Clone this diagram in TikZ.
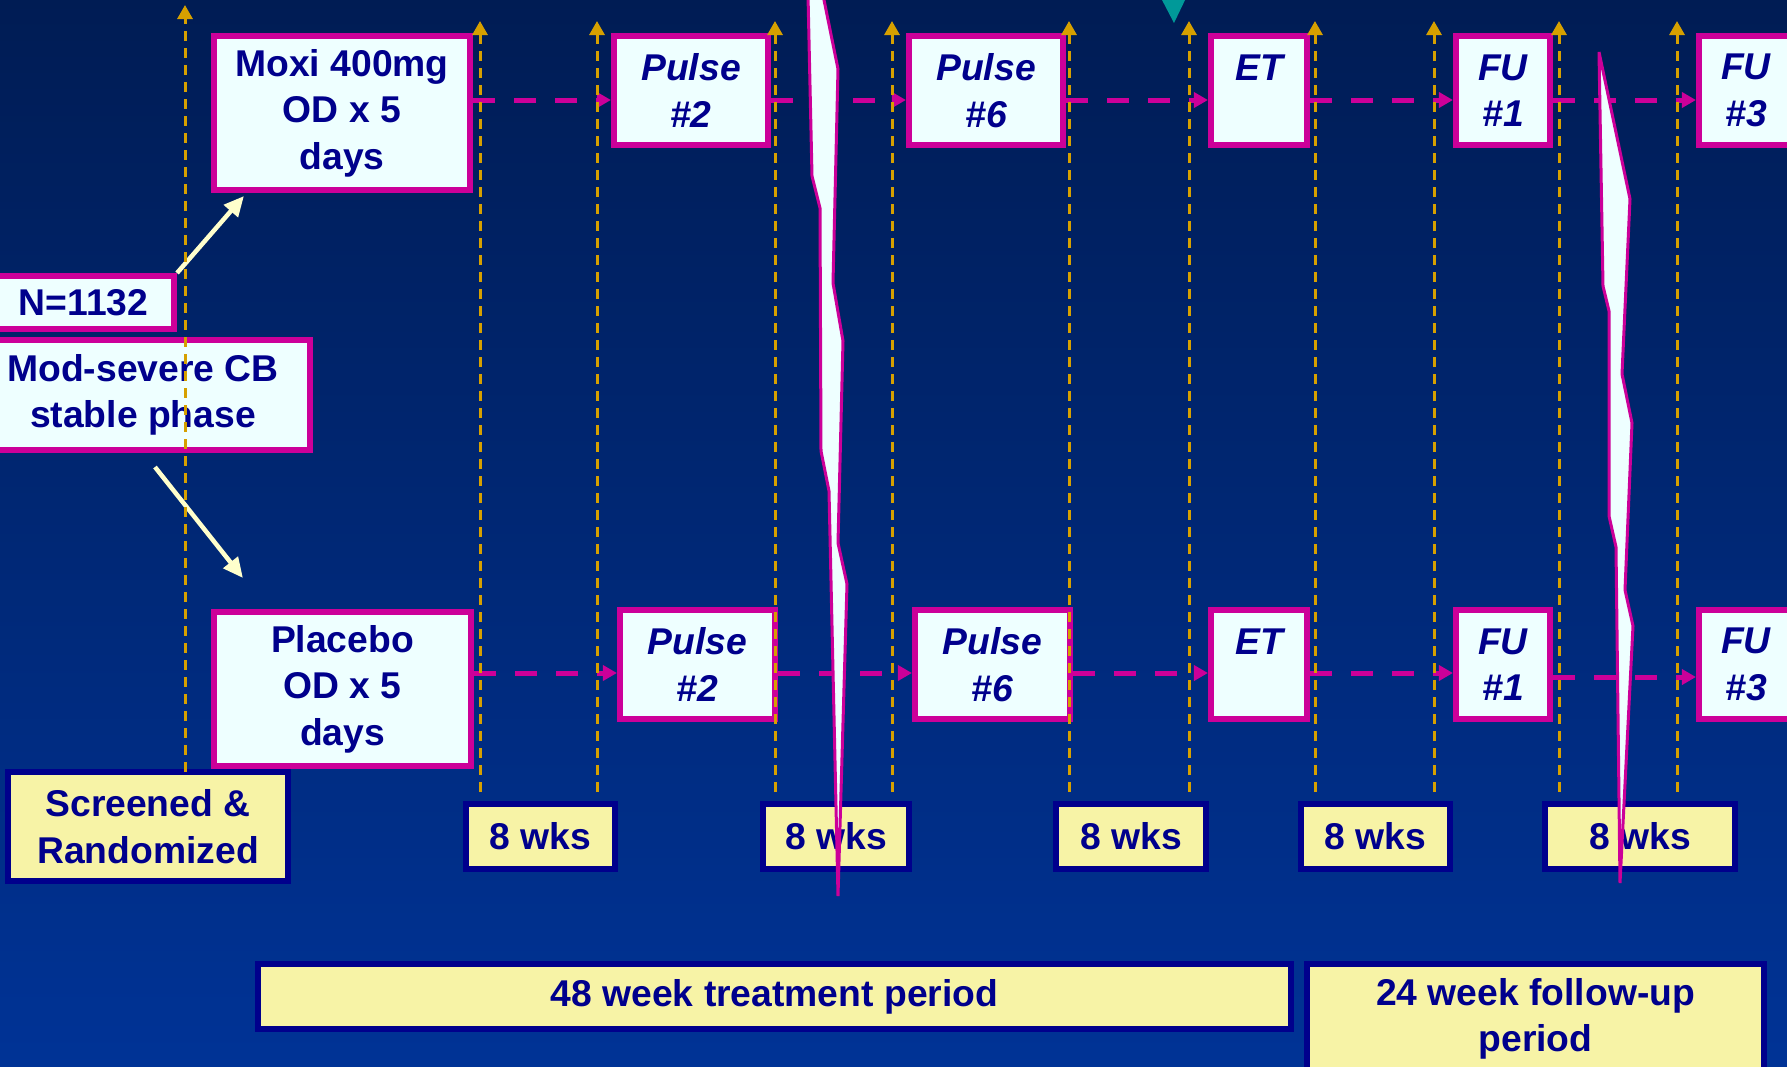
\documentclass[tikz,border=0pt]{standalone}
\usepackage{fontspec}
\setmainfont{Liberation Sans}
\usetikzlibrary{arrows.meta}

\definecolor{bgtop}{RGB}{0,28,84}
\definecolor{bgbot}{RGB}{0,51,150}
\definecolor{magb}{RGB}{204,0,153}
\definecolor{boxfill}{RGB}{238,255,255}
\definecolor{navytext}{RGB}{0,0,140}
\definecolor{cream}{RGB}{247,243,166}
\definecolor{gold}{RGB}{214,160,0}
\definecolor{pale}{RGB}{255,255,204}
\definecolor{tealmark}{RGB}{0,153,153}
\newcommand{\boxfont}{\fontsize{10.6}{13.2}\selectfont\bfseries}

\begin{document}
\begin{tikzpicture}[x=0.01cm, y=-0.01cm]
\tikzset{
  arm/.style={draw=magb, fill=boxfill, line width=0.06cm, inner sep=0pt, align=center, text=navytext, font=\boxfont},
  visit/.style={arm, font=\boxfont\itshape, minimum height=1.09cm},
  period/.style={draw=navytext, fill=cream, line width=0.06cm, inner sep=0pt, align=center, text=navytext, font=\boxfont},
  flow/.style={magb, line width=0.05cm, dash pattern=on 0.22cm off 0.19cm, -{Triangle[length=0.14cm,width=0.15cm]}},
  tick/.style={gold, line width=0.03cm, dash pattern=on 0.1cm off 0.07cm, -{Triangle[length=0.14cm,width=0.15cm]}},
  rand/.style={pale, line width=0.045cm, -{Triangle[length=0.2cm,width=0.18cm]}},
  brk/.style={draw=magb, fill=boxfill, line width=0.03cm}
}
\useasboundingbox (0,0) rectangle (1787,1066);
\clip (0,0) rectangle (1787,1066);
\shade[top color=bgtop, bottom color=bgbot] (0,0) rectangle (1787,1066);
\fill[tealmark] (1161,-2) -- (1186,-2) -- (1174,23) -- cycle;

% treatment arms, top row
\node[arm, minimum width=2.56cm, minimum height=1.54cm] (moxi) at (342,113) {Moxi 400mg\\OD x 5\\days};
\node[visit, minimum width=1.54cm] (puA) at (691,90.5) {Pulse\\\#2};
\node[visit, minimum width=1.54cm] (pvA) at (986,90.5) {Pulse\\\#6};
\node[visit, minimum width=0.96cm] (etA) at (1259,90.5) {ET\\\phantom{\#2}};
\node[visit, minimum width=0.94cm] (fuA) at (1503,90.5) {FU\\\#1};
\node[visit, minimum width=0.94cm] (fwA) at (1746,90.5) {FU\\\#3};

% bottom row
\node[arm, minimum width=2.57cm, minimum height=1.54cm] (plac) at (342.5,689) {Placebo\\OD x 5\\days};
\node[visit, minimum width=1.55cm] (puB) at (697.5,664.5) {Pulse\\\#2};
\node[visit, minimum width=1.55cm] (pvB) at (992.5,664.5) {Pulse\\\#6};
\node[visit, minimum width=0.96cm] (etB) at (1259,664.5) {ET\\\phantom{\#2}};
\node[visit, minimum width=0.94cm] (fuB) at (1503,664.5) {FU\\\#1};
\node[visit, minimum width=0.94cm] (fwB) at (1746,664.5) {FU\\\#3};

% population
\node[arm, minimum width=1.81cm, minimum height=0.53cm] (pop) at (83.5,302.5) {N=1132};
\node[arm, minimum width=3.34cm, minimum height=1.10cm] (mod) at (143,395) {Mod-severe CB\\stable phase};

% periods
\node[period, minimum width=2.80cm, minimum height=1.09cm] (scr) at (148,826.5) {Screened \&\\Randomized};
\foreach \n/\x/\w in {wa/540.5/1.49, wb/836/1.46, wc/1131/1.50, wd/1375.5/1.49, we/1640/1.90}
{
	\node[period, minimum width=\w cm, minimum height=0.65cm] (\n) at (\x,836.5) {8 wks};
}
\node[period, minimum width=10.33cm, minimum height=0.65cm] (trt) at (774.5,996.5) {48 week treatment period};
\node[period, minimum width=4.57cm, minimum height=1.10cm] (fol) at (1535.5,1019) {24 week follow-up\\period};

\coordinate (rowA) at (0,100);
\coordinate (rowB) at (0,673);
\coordinate (rowC) at (0,677);

\foreach \a/\b in {moxi/puA, puA/pvA, pvA/etA, etA/fuA, fuA/fwA}
{
	\draw[flow] (\a.east|-rowA) -- (\b.west|-rowA);
}
\foreach \a/\b/\r in {plac/puB/rowB, puB/pvB/rowB, pvB/etB/rowB, etB/fuB/rowB, fuB/fwB/rowC}
{
	\draw[flow] (\a.east|-\r) -- (\b.west|-\r);
}

\draw[rand] (pop.north east) -- ([shift={(33,3)}]moxi.south west);
\draw[rand] ([shift={(12,14)}]mod.south) -- ([shift={(32,-31)}]plac.north west);

% time marks
\draw[tick] (185,772) -- (185,5);
\foreach \x in {480,597,775,892,1069,1189,1315,1434,1559,1677}
{
	\draw[tick] (\x,792) -- (\x,21);
}

% breaks
\draw[brk] (808,-5) -- (812,176) -- (820,208) -- (821,451) -- (829,491) -- (838,896) -- (847,584) -- (838,543) -- (843,341) -- (833,283) -- (838,69) -- (823,-5) -- cycle;
\draw[brk] (1599,52) -- (1603,286) -- (1609,311) -- (1609,516) -- (1616,547) -- (1620,883) -- (1633,626) -- (1625,590) -- (1632,423) -- (1622,374) -- (1630,199) -- cycle;
\end{tikzpicture}
\end{document}
